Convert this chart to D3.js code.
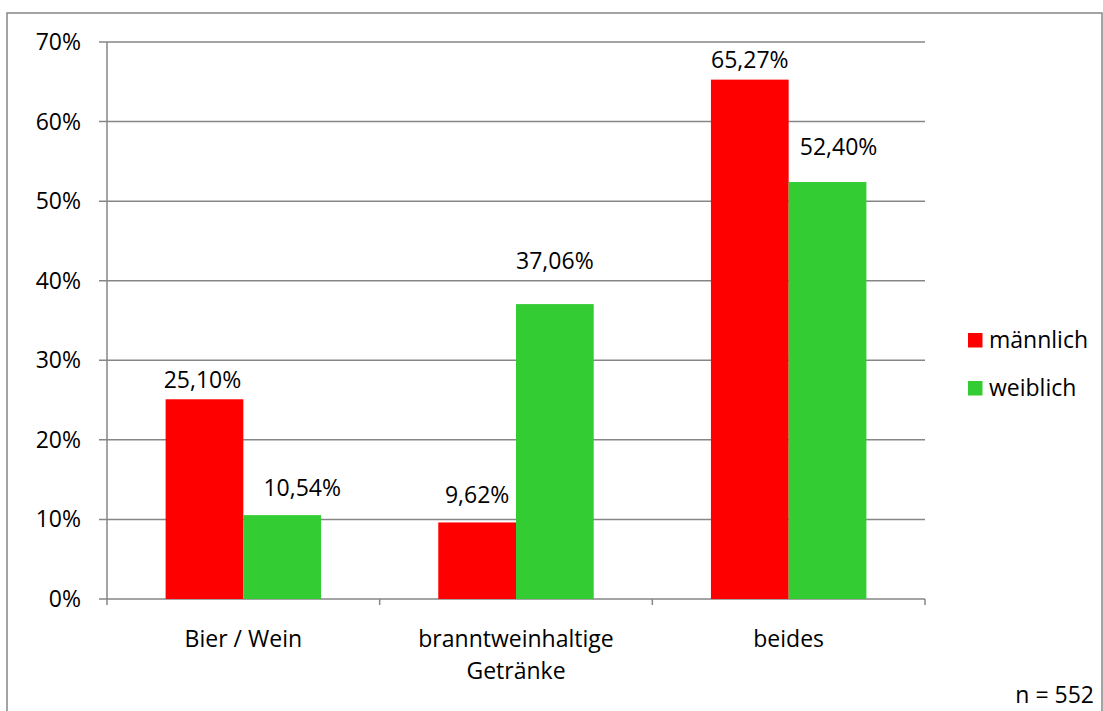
<!DOCTYPE html>
<html><head><meta charset="utf-8">
<script src="https://cdn.jsdelivr.net/npm/d3@7"></script>
<style>body{margin:0;background:#fff}svg{display:block}text{font-family:"Open Sans",sans-serif;fill:#000}</style>
</head><body><svg id="c" width="1103" height="711"></svg>
<script>
const categories = [["Bier / Wein"], ["branntweinhaltige", "Getränke"], ["beides"]];
const seriesNames = ["männlich", "weiblich"];
const maennlich = [25.10, 9.62, 65.27];
const weiblich = [10.54, 37.06, 52.40];
const yTicks = [0, 10, 20, 30, 40, 50, 60, 70];
const colors = ["#ff0000", "#33cc33"];
const labelDx = [[-2, 20], [0, 0], [0, 11]];
const labelDy = [[0, -8], [-8, -24], [-1, -16]];

const svg = d3.select("#c");
const grey = "#868686";
svg.append("rect").attr("x", 7).attr("y", 13).attr("width", 1095).attr("height", 720)
  .attr("fill", "none").attr("stroke", grey).attr("stroke-width", 1.5);

const x0 = d3.scaleBand().domain(d3.range(categories.length)).range([107, 925]);
const x1 = d3.scaleBand().domain(seriesNames).range([0, x0.bandwidth()]).paddingOuter(0.754);
const y = d3.scaleLinear().domain([0, 70]).range([599, 42]);
const fs = 23;

svg.append("g").selectAll("line").data(yTicks).join("line")
  .attr("x1", 99).attr("x2", 925).attr("y1", d => y(d)).attr("y2", d => y(d))
  .attr("stroke", grey).attr("stroke-width", 1.5);
svg.append("line").attr("x1", 107).attr("x2", 107).attr("y1", y(70)).attr("y2", 605)
  .attr("stroke", grey).attr("stroke-width", 1.5);
svg.append("g").selectAll("line").data(d3.range(categories.length)).join("line")
  .attr("x1", d => x0(d) + x0.bandwidth()).attr("x2", d => x0(d) + x0.bandwidth())
  .attr("y1", y(0)).attr("y2", 605).attr("stroke", grey).attr("stroke-width", 1.5);
svg.append("g").selectAll("text").data(yTicks).join("text")
  .attr("x", 81).attr("y", d => y(d) + 8).attr("text-anchor", "end")
  .attr("font-size", fs).text(d => d + "%");

const rows = categories.map((c, i) => ({i, vals: [maennlich[i], weiblich[i]]}));
const g = svg.append("g").selectAll("g").data(rows).join("g")
  .attr("transform", d => `translate(${x0(d.i)},0)`);
g.selectAll("rect").data(d => d.vals.map((v, k) => ({v, k}))).join("rect")
  .attr("x", d => x1(seriesNames[d.k])).attr("width", x1.bandwidth())
  .attr("y", d => y(d.v)).attr("height", d => y(0) - y(d.v))
  .attr("fill", d => colors[d.k]);
g.selectAll("text").data(d => d.vals.map((v, k) => ({v, k, i: d.i}))).join("text")
  .attr("x", d => x1(seriesNames[d.k]) + x1.bandwidth() / 2 + labelDx[d.i][d.k])
  .attr("y", d => y(d.v) - 11 + labelDy[d.i][d.k])
  .attr("text-anchor", "middle").attr("font-size", fs)
  .text(d => d.v.toFixed(2).replace(".", ",") + "%");

svg.append("g").selectAll("text").data(categories.map((c, i) => ({c, i}))).join("text")
  .attr("text-anchor", "middle").attr("font-size", fs)
  .attr("transform", d => `translate(${x0(d.i) + x0.bandwidth() / 2},647)`)
  .selectAll("tspan").data(d => d.c).join("tspan")
  .attr("x", 0).attr("y", (d, j) => j * 32).text(d => d);

const lg = svg.append("g").selectAll("g").data(seriesNames).join("g")
  .attr("transform", (d, k) => `translate(968,${333 + k * 48})`);
lg.append("rect").attr("width", 14.5).attr("height", 14.5).attr("fill", (d, k) => colors[k]);
lg.append("text").attr("x", 21).attr("y", 15).attr("font-size", fs).text(d => d);

svg.append("text").attr("x", 1094).attr("y", 703).attr("text-anchor", "end")
  .attr("font-size", fs).text("n = 552");
</script></body></html>
